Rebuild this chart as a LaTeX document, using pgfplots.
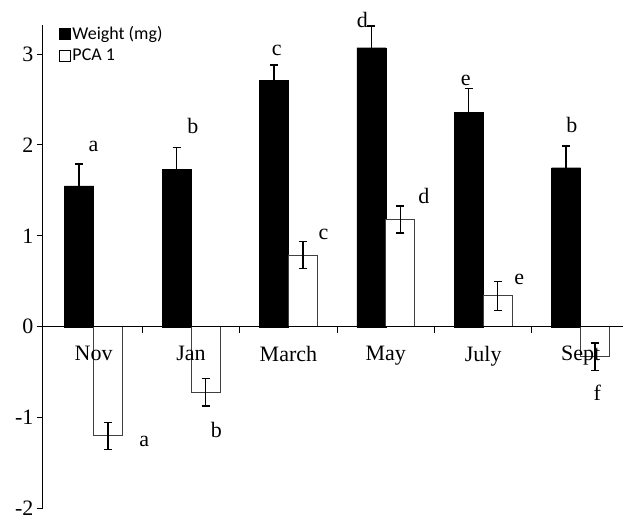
\documentclass[border=0pt]{standalone}
\usepackage{pgfplots}
\pgfplotsset{compat=1.18}
\usepackage{fontspec}
\setmainfont{Liberation Serif}
\newfontfamily\carlito{Carlito}
\begin{document}
\begin{tikzpicture}
\begin{axis}[
  scale only axis, width=580pt, height=484pt,
  xmin=-0.52, xmax=5.43, ymin=-2, ymax=3.32,
  axis x line=middle, axis y line=left,
  axis on top,
  axis line style={-, line width=1pt, black},
  ybar=0pt, bar width=29pt,
  ytick={-2,-1,0,1,2,3},
  xtick={0,1,2,3,4,5},
  xticklabels={Nov,Jan,March,May,July,Sept},
  minor xtick={0.5,1.5,2.5,3.5,4.5},
  tick align=outside,
  major tick length=6pt, minor tick length=6pt,
  major x tick style={draw=none},
  tick style={line width=1pt, black},
  /pgf/number format/assume math mode=true,
  every tick label/.append style={font=\fontsize{22}{26}\selectfont},
  xticklabel style={yshift=-10pt},
  legend style={at={(axis description cs:0.028,1.0)}, anchor=north west, draw=none, fill=none,
    font=\carlito\fontsize{18}{20}\selectfont, inner sep=0pt, row sep=5pt,
    nodes={inner sep=1.5pt}},
  legend cell align=left,
  clip=false,
]
\addplot[fill=black, draw=black,
  error bars/.cd, y dir=plus, y explicit,
  error bar style={line width=1.4pt, black},
  error mark options={rotate=90, line width=1.4pt, mark size=4pt, black},
  /pgfplots/legend image code/.code={\draw[black, fill=black] (0pt,-5.5pt) rectangle (11pt,5.5pt);}]
  table[x=x, y=y, y error=e] {
x y e
0 1.55 0.24
1 1.73 0.24
2 2.71 0.17
3 3.07 0.24
4 2.36 0.26
5 1.75 0.24
};
\addlegendentry{Weight (mg)}
\addplot[fill=white, draw=black!75, line width=0.8pt,
  error bars/.cd, y dir=both, y explicit,
  error bar style={line width=1.4pt, black},
  error mark options={rotate=90, line width=1.4pt, mark size=4pt, black},
  /pgfplots/legend image code/.code={\draw[black, line width=0.6pt, fill=white] (0pt,-5.5pt) rectangle (11pt,5.5pt);}]
  table[x=x, y=y, y error=e] {
x y e
0 -1.20 0.15
1 -0.72 0.15
2 0.79 0.15
3 1.18 0.15
4 0.34 0.16
5 -0.33 0.15
};
\addlegendentry{PCA 1}
\begin{scope}[every node/.style={anchor=base, font=\fontsize{22}{26}\selectfont, inner sep=0pt}]
\node at (axis cs:0.00,1.93) {a};
\node at (axis cs:1.02,2.13) {b};
\node at (axis cs:1.88,2.98) {c};
\node at (axis cs:2.76,3.29) {d};
\node at (axis cs:3.82,2.65) {e};
\node at (axis cs:4.91,2.14) {b};
\node at (axis cs:0.52,-1.32) {a};
\node at (axis cs:1.26,-1.22) {b};
\node at (axis cs:2.36,0.96) {c};
\node at (axis cs:3.39,1.36) {d};
\node at (axis cs:4.37,0.46) {e};
\node at (axis cs:5.17,-0.81) {f};
\end{scope}
\end{axis}
\path ([xshift=-43pt,yshift=-6pt]current axis.south west) rectangle ([yshift=25pt]current axis.north east);
\end{tikzpicture}
\end{document}
